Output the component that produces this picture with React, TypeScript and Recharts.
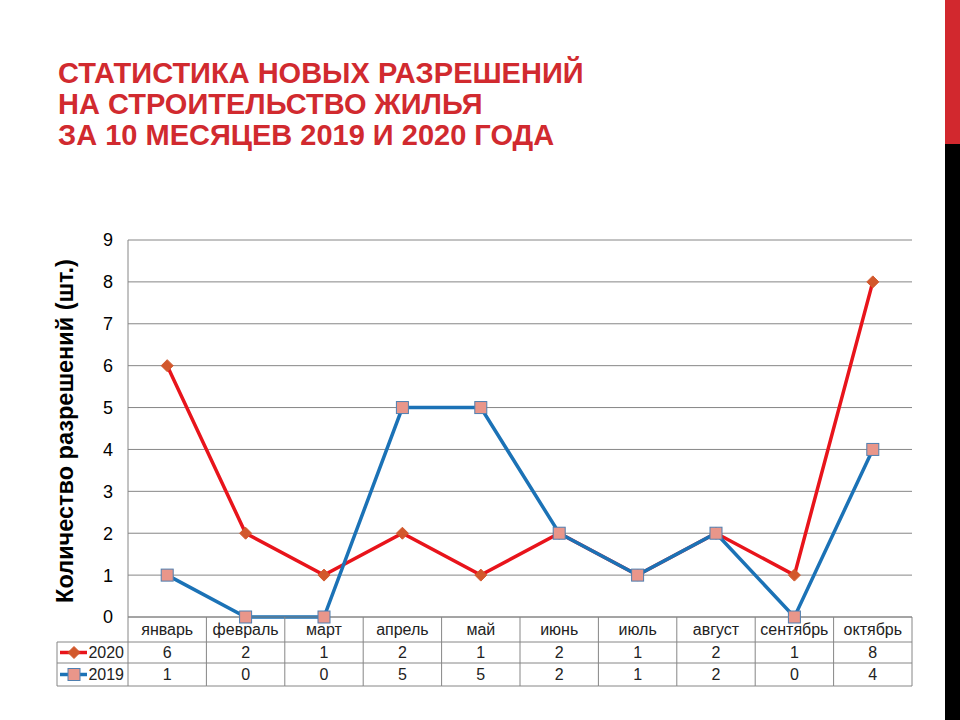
import React from 'react';
import { LineChart, Line, XAxis, YAxis, CartesianGrid } from 'recharts';

const months = ['январь', 'февраль', 'март', 'апрель', 'май', 'июнь', 'июль', 'август', 'сентябрь', 'октябрь'];
const values2020 = [6, 2, 1, 2, 1, 2, 1, 2, 1, 8];
const values2019 = [1, 0, 0, 5, 5, 2, 1, 2, 0, 4];
const yTicks = [0, 1, 2, 3, 4, 5, 6, 7, 8, 9];
const seriesNames = ['2020', '2019'];

const data = months.map((m, i) => ({ month: m, v2020: values2020[i], v2019: values2019[i] }));

const FONT = '"Liberation Sans", Arial, sans-serif';
const GRID = '#868686';
const RED = '#E8141B';
const BLUE = '#1B72B6';
const DIAMOND_FILL = '#D2582C';
const SQUARE_FILL = '#E9968A';
const SQUARE_STROKE = '#4F7FB0';

const PLOT_LEFT = 128;
const PLOT_RIGHT = 912;
const PLOT_TOP = 240;
const PLOT_BOTTOM = 617;
const Y_AXIS_W = 60;
const TABLE_H = 70;
const BAND = (PLOT_RIGHT - PLOT_LEFT) / months.length;

const Diamond = ({ cx, cy }: { cx: number; cy: number }) => (
  <path
    d={`M${cx},${cy - 6} L${cx + 6},${cy} L${cx},${cy + 6} L${cx - 6},${cy} Z`}
    fill={DIAMOND_FILL}
    stroke={DIAMOND_FILL}
    strokeWidth={1}
  />
);

const Square = ({ cx, cy }: { cx: number; cy: number }) => (
  <rect x={cx - 6} y={cy - 6} width={12} height={12} fill={SQUARE_FILL} stroke={SQUARE_STROKE} strokeWidth={1} />
);

// the data table under the plot, one column per tick
const TableTick = (props: any) => {
  const { x, y, payload } = props;
  const i = months.indexOf(payload.value);
  const left = x - BAND / 2;
  const right = x + BAND / 2;
  const r1 = y + 25;
  const r2 = y + 46;
  const r3 = y + 69;
  const legendLeft = PLOT_LEFT - 71;
  return (
    <g fontFamily={FONT}>
      <line x1={left} y1={y} x2={left} y2={r3} stroke={GRID} />
      {i === months.length - 1 && <line x1={right} y1={y} x2={right} y2={r3} stroke={GRID} />}
      <line x1={left} y1={r1} x2={right} y2={r1} stroke={GRID} />
      <line x1={left} y1={r2} x2={right} y2={r2} stroke={GRID} />
      <line x1={left} y1={r3} x2={right} y2={r3} stroke={GRID} />
      <text x={x} y={y + 18} textAnchor="middle" fontSize={16} fill="#222">{payload.value}</text>
      <text x={x} y={r1 + 16} textAnchor="middle" fontSize={16} fill="#222">{values2020[i]}</text>
      <text x={x} y={r2 + 17} textAnchor="middle" fontSize={16} fill="#222">{values2019[i]}</text>
      {i === 0 && (
        <g>
          <line x1={legendLeft} y1={r1} x2={left} y2={r1} stroke={GRID} />
          <line x1={legendLeft} y1={r2} x2={left} y2={r2} stroke={GRID} />
          <line x1={legendLeft} y1={r3} x2={left} y2={r3} stroke={GRID} />
          <line x1={legendLeft} y1={r1} x2={legendLeft} y2={r3} stroke={GRID} />
          <line x1={legendLeft + 3} y1={(r1 + r2) / 2} x2={legendLeft + 30} y2={(r1 + r2) / 2} stroke={RED} strokeWidth={3.5} />
          <Diamond cx={legendLeft + 17} cy={(r1 + r2) / 2} />
          <text x={left - 4} y={r1 + 16} textAnchor="end" fontSize={16} fill="#222">{seriesNames[0]}</text>
          <line x1={legendLeft + 3} y1={(r2 + r3) / 2} x2={legendLeft + 30} y2={(r2 + r3) / 2} stroke={BLUE} strokeWidth={3.5} />
          <Square cx={legendLeft + 17} cy={(r2 + r3) / 2} />
          <text x={left - 4} y={r2 + 17} textAnchor="end" fontSize={16} fill="#222">{seriesNames[1]}</text>
        </g>
      )}
    </g>
  );
};

const App: React.FC = () => {
  return (
    <div style={{ position: 'fixed', left: 0, top: 0, width: 960, height: 720, background: '#fff', overflow: 'hidden' }}>
      <div
        style={{
          position: 'absolute',
          left: 58,
          top: 58,
          fontFamily: FONT,
          fontWeight: 700,
          fontSize: 29,
          lineHeight: '31px',
          color: '#D12A2F',
          whiteSpace: 'nowrap',
        }}
      >
        СТАТИСТИКА НОВЫХ РАЗРЕШЕНИЙ
        <br />
        НА СТРОИТЕЛЬСТВО ЖИЛЬЯ
        <br />
        ЗА 10 МЕСЯЦЕВ 2019 И 2020 ГОДА
      </div>
      <div style={{ position: 'absolute', left: 945, top: 0, width: 15, height: 144, background: '#D2282E' }} />
      <div style={{ position: 'absolute', left: 945, top: 144, width: 15, height: 576, background: '#000' }} />

      <div
        style={{
          position: 'absolute',
          left: 65,
          top: 431,
          transform: 'translate(-50%, -50%) rotate(-90deg)',
          fontFamily: FONT,
          fontWeight: 700,
          fontSize: 23.5,
          whiteSpace: 'nowrap',
          color: '#000',
        }}
      >
        Количество разрешений (шт.)
      </div>

      <div style={{ position: 'absolute', left: 0, top: 0 }}>
        <LineChart
          width={960}
          height={720}
          data={data}
          margin={{ top: PLOT_TOP, right: 960 - PLOT_RIGHT, bottom: 720 - PLOT_BOTTOM - TABLE_H, left: PLOT_LEFT - Y_AXIS_W }}
        >
          <CartesianGrid vertical={false} stroke={GRID} />
          <XAxis
            dataKey="month"
            height={TABLE_H}
            padding={{ left: BAND / 2, right: BAND / 2 }}
            axisLine={{ stroke: GRID }}
            tickLine={false}
            tickSize={0}
            tickMargin={0}
            interval={0}
            tick={<TableTick />}
          />
          <YAxis
            width={Y_AXIS_W}
            domain={[0, 9]}
            ticks={yTicks}
            interval={0}
            axisLine={{ stroke: GRID }}
            tickLine={false}
            tickSize={0}
            tickMargin={15}
            tick={{ fontSize: 18, fill: '#000', fontFamily: FONT }}
          />
          <Line
            dataKey="v2020"
            name={seriesNames[0]}
            stroke={RED}
            strokeWidth={3.5}
            isAnimationActive={false}
            dot={(p: any) => <Diamond key={`d20-${p.index}`} cx={p.cx} cy={p.cy} />}
          />
          <Line
            dataKey="v2019"
            name={seriesNames[1]}
            stroke={BLUE}
            strokeWidth={3.5}
            isAnimationActive={false}
            dot={(p: any) => <Square key={`d19-${p.index}`} cx={p.cx} cy={p.cy} />}
          />
        </LineChart>
      </div>
    </div>
  );
};

export default App;
